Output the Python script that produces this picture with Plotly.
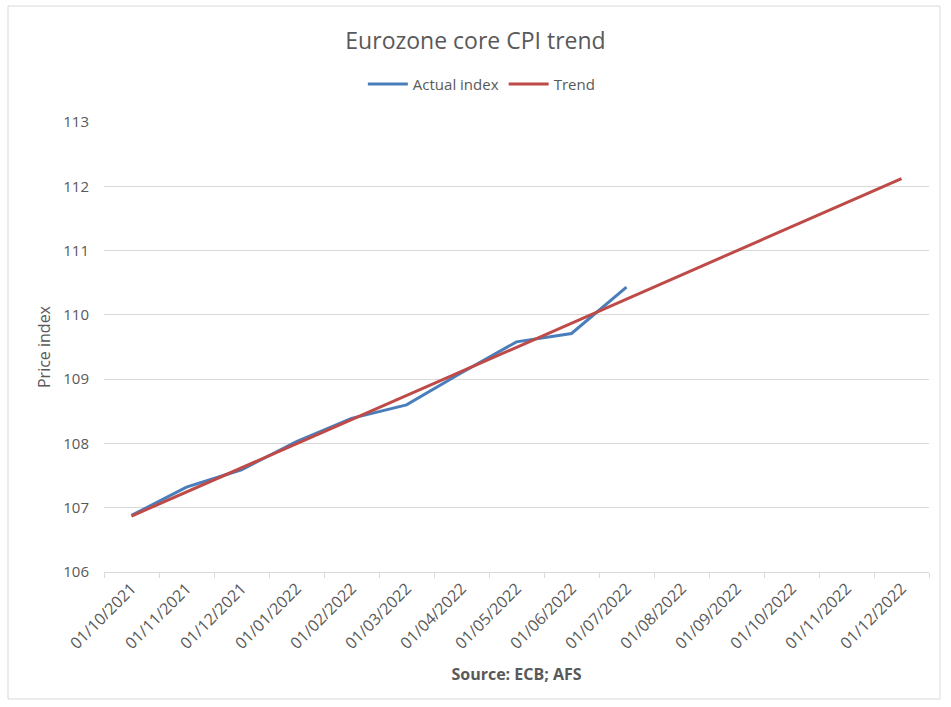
import plotly.graph_objects as go

categories = ["01/10/2021", "01/11/2021", "01/12/2021", "01/01/2022", "01/02/2022",
              "01/03/2022", "01/04/2022", "01/05/2022", "01/06/2022", "01/07/2022",
              "01/08/2022", "01/09/2022", "01/10/2022", "01/11/2022", "01/12/2022"]
actual_index = [106.88, 107.32, 107.59, 108.03, 108.39, 108.60, 109.10, 109.58, 109.71, 110.43]
trend = [106.87, 107.245, 107.62, 107.995, 108.37, 108.745, 109.12, 109.495, 109.87,
         110.245, 110.62, 110.995, 111.37, 111.745, 112.12]

FONT = "Open Sans"
GRAY = "#595959"

fig = go.Figure()
fig.add_trace(go.Scatter(x=categories[:len(actual_index)], y=actual_index, mode="lines",
                         name="Actual index", line=dict(color="#4A7EBB", width=3)))
fig.add_trace(go.Scatter(x=categories, y=trend, mode="lines",
                         name="Trend", line=dict(color="#BE4B48", width=3)))

fig.update_layout(
    width=951, height=707,
    paper_bgcolor="white", plot_bgcolor="white",
    margin=dict(l=104, r=22, t=122, b=135),
    title=dict(text="Eurozone core CPI trend", x=0.5, xanchor="center", y=0.942, yanchor="middle",
               font=dict(family=FONT, size=23, color=GRAY)),
    legend=dict(orientation="h", x=0.458, xanchor="center", y=1.084, yanchor="middle",
                font=dict(family=FONT, size=15, color=GRAY), itemwidth=40,
                bgcolor="rgba(0,0,0,0)"),
    font=dict(family=FONT, size=15, color=GRAY),
    shapes=[dict(type="rect", xref="paper", yref="paper",
                 x0=-96/825, x1=(940-104)/825, y0=-(699-572)/450, y1=(572-6)/450,
                 line=dict(color="#D9D9D9", width=1), fillcolor="rgba(0,0,0,0)", layer="below")],
)
fig.update_xaxes(type="category", range=[-0.5, 14.5], tickangle=-45, automargin=False,
                 showgrid=False, showline=True, linecolor="#D9D9D9", linewidth=1,
                 ticks="outside", tickson="boundaries", ticklen=5, tickcolor="#D9D9D9",
                 tickfont=dict(family=FONT, size=16, color=GRAY),
                 title=dict(text="<b>Source: ECB; AFS</b>", standoff=16,
                            font=dict(family=FONT, size=16, color=GRAY)))
fig.update_yaxes(range=[106, 113], dtick=1, showgrid=True, gridcolor="#D9D9D9", gridwidth=1,
                 zeroline=False, showline=False, ticks="", ticklabelstandoff=14, automargin=False,
                 tickfont=dict(family=FONT, size=15, color=GRAY),
                 title=dict(text="Price index", standoff=8,
                            font=dict(family=FONT, size=16, color=GRAY)))

fig.write_html("out.html")
